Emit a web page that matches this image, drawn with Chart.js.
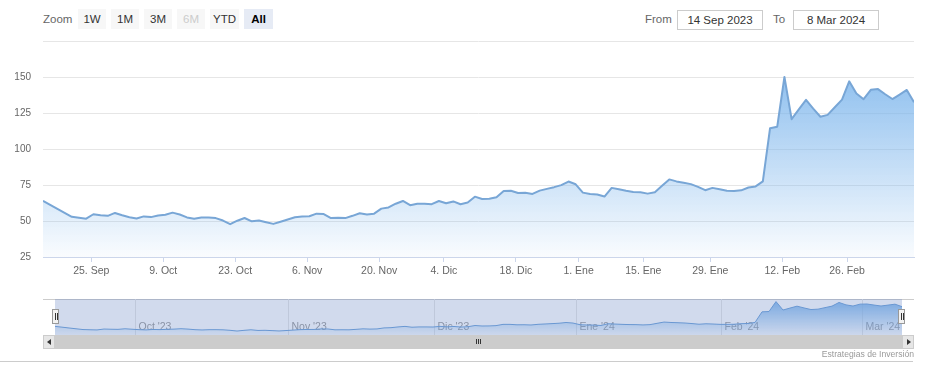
<!DOCTYPE html>
<html>
<head>
<meta charset="utf-8">
<script src="https://cdn.jsdelivr.net/npm/chart.js@4.4.0/dist/chart.umd.min.js"></script>
<style>
html, body { margin: 0; padding: 0; background: #fff; }
body { width: 927px; height: 377px; position: relative; overflow: hidden; font-family: "Liberation Sans", Arial, sans-serif; }
#main { position: absolute; left: 0; top: 0; }
#nav { position: absolute; left: 55px; top: 299px; }
.lbl { position: absolute; color: #666; font-size: 11.5px; line-height: 20px; top: 9px; }
.btn { position: absolute; top: 9px; height: 20px; line-height: 20px; text-align: center; font-size: 11.5px; color: #333; background: #f7f7f7; }
.btn.off { color: #ccc; }
.btn.on { background: #e6ebf5; color: #000; font-weight: bold; }
.inp { position: absolute; top: 10px; height: 18px; line-height: 18px; border: 1px solid #ccc; text-align: center; font-size: 11.5px; color: #333; box-sizing: content-box; }
.box { position: absolute; box-sizing: border-box; }
.grip { position: absolute; width: 1px; background: #333; }
</style>
</head>
<body>

<!-- range selector -->
<div class="lbl" style="left:43px">Zoom</div>
<div class="btn" style="left:78px;width:28px">1W</div>
<div class="btn" style="left:111px;width:28px">1M</div>
<div class="btn" style="left:144px;width:28px">3M</div>
<div class="btn off" style="left:177px;width:28px">6M</div>
<div class="btn" style="left:210px;width:29px">YTD</div>
<div class="btn on" style="left:244px;width:29px">All</div>

<div class="lbl" style="left:645px">From</div>
<div class="inp" style="left:677px;width:84px">14 Sep 2023</div>
<div class="lbl" style="left:773px">To</div>
<div class="inp" style="left:793px;width:84px">8 Mar 2024</div>

<canvas id="main" width="927" height="290"></canvas>

<!-- navigator outline + handles -->
<div class="box" style="left:43px;top:299px;width:871px;height:1px;background:#ccc"></div>
<canvas id="nav" width="847" height="36"></canvas>
<div class="box" style="left:52px;top:309px;width:7px;height:15px;background:#f2f2f2;border:1px solid #999">
  <div class="grip" style="left:1.5px;top:3px;height:7px;background:#333"></div>
  <div class="grip" style="left:3.5px;top:3px;height:7px;background:#333"></div>
</div>
<div class="box" style="left:898px;top:309px;width:7px;height:15px;background:#f2f2f2;border:1px solid #999">
  <div class="grip" style="left:1.5px;top:3px;height:7px;background:#333"></div>
  <div class="grip" style="left:3.5px;top:3px;height:7px;background:#333"></div>
</div>

<!-- scrollbar -->
<div class="box" style="left:43px;top:335px;width:871px;height:14px;background:#f2f2f2"></div>
<div class="box" style="left:55px;top:335px;width:847px;height:14px;background:#ccc;border:1px solid #ccc"></div>
<div class="grip" style="left:476px;top:339px;height:5px"></div>
<div class="grip" style="left:478px;top:339px;height:5px"></div>
<div class="grip" style="left:480px;top:339px;height:5px"></div>
<div class="box" style="left:43px;top:335px;width:12px;height:14px;background:#e6e6e6;border:1px solid #ccc">
  <div style="position:absolute;left:3px;top:3px;width:0;height:0;border-top:3px solid transparent;border-bottom:3px solid transparent;border-right:4px solid #333"></div>
</div>
<div class="box" style="left:902px;top:335px;width:12px;height:14px;background:#e6e6e6;border:1px solid #ccc">
  <div style="position:absolute;left:4px;top:3px;width:0;height:0;border-top:3px solid transparent;border-bottom:3px solid transparent;border-left:4px solid #333"></div>
</div>

<div class="box" style="left:0;top:361px;width:913px;height:1px;background:#ccc"></div>
<div style="position:absolute;right:13px;top:348px;font-size:8.6px;color:#999;line-height:12px">Estrategias de Inversión</div>

<script>
// ---------- Data ----------
// trading days shown (ordinal axis: one slot per session)
const DATES = [
    "2023-09-14", "2023-09-15", "2023-09-18", "2023-09-19", "2023-09-20", "2023-09-21", "2023-09-22",
    "2023-09-25", "2023-09-26", "2023-09-27", "2023-09-28", "2023-09-29",
    "2023-10-02", "2023-10-03", "2023-10-04", "2023-10-05", "2023-10-06", "2023-10-09", "2023-10-10",
    "2023-10-11", "2023-10-12", "2023-10-13", "2023-10-16", "2023-10-17", "2023-10-18", "2023-10-19",
    "2023-10-20", "2023-10-23", "2023-10-24", "2023-10-25", "2023-10-26", "2023-10-27", "2023-10-30", "2023-10-31",
    "2023-11-01", "2023-11-02", "2023-11-03", "2023-11-06", "2023-11-07", "2023-11-08", "2023-11-09",
    "2023-11-10", "2023-11-13", "2023-11-14", "2023-11-15", "2023-11-16", "2023-11-17", "2023-11-20",
    "2023-11-21", "2023-11-22", "2023-11-24", "2023-11-27", "2023-11-28", "2023-11-29", "2023-11-30",
    "2023-12-01", "2023-12-04", "2023-12-05", "2023-12-06", "2023-12-07", "2023-12-08", "2023-12-11",
    "2023-12-12", "2023-12-13", "2023-12-14", "2023-12-15", "2023-12-18", "2023-12-19", "2023-12-20",
    "2023-12-21", "2023-12-22", "2023-12-26", "2023-12-27", "2023-12-28", "2023-12-29",
    "2024-01-02", "2024-01-03", "2024-01-04", "2024-01-05", "2024-01-08", "2024-01-09", "2024-01-10",
    "2024-01-11", "2024-01-12", "2024-01-16", "2024-01-17", "2024-01-18", "2024-01-19", "2024-01-22",
    "2024-01-23", "2024-01-24", "2024-01-25", "2024-01-26", "2024-01-29", "2024-01-30", "2024-01-31",
    "2024-02-01", "2024-02-02", "2024-02-05", "2024-02-06", "2024-02-07", "2024-02-08", "2024-02-09",
    "2024-02-12", "2024-02-13", "2024-02-14", "2024-02-15", "2024-02-16", "2024-02-20", "2024-02-21",
    "2024-02-22", "2024-02-23", "2024-02-26", "2024-02-27", "2024-02-28", "2024-02-29",
    "2024-03-01", "2024-03-04", "2024-03-05", "2024-03-06", "2024-03-07", "2024-03-08"
];

const PRICES = [
    64.0, 61.2, 58.4, 55.6, 52.9, 52.2, 51.6, 54.7, 54.0, 53.6, 55.6, 54.0,
    52.6, 51.7, 53.2, 52.7, 53.8, 54.4, 55.8, 54.5, 52.5, 51.5, 52.4, 52.5, 52.0, 50.3,
    47.8, 50.2, 52.1, 49.8, 50.3, 49.2, 48.0, 49.5,
    51.0, 52.6, 53.2, 53.3, 55.1, 54.8, 52.0, 52.2, 52.0, 53.6, 55.4, 54.5, 55.1, 58.6,
    59.4, 62.0, 63.9, 61.0, 62.0, 62.0, 61.7,
    63.9, 62.3, 63.6, 61.6, 62.8, 66.9, 65.3, 65.5, 66.5, 70.9, 71.0, 69.4, 69.6, 68.8,
    71.1, 72.3, 73.5, 74.9, 77.4, 75.5,
    69.7, 68.7, 68.4, 67.0, 73.0, 72.0, 71.0, 70.2, 70.0, 69.0, 70.0, 74.5, 78.9, 77.5,
    76.6, 75.6, 73.7, 71.4, 73.0, 72.1, 71.0,
    70.9, 71.3, 73.3, 74.0, 77.5, 114.4, 115.5, 150.0, 120.7, 127.5, 134.1, 128.0, 122.4,
    123.7, 129.0, 134.3, 147.0, 138.6, 134.6, 141.1, 141.6,
    138.0, 134.7, 137.8, 141.0, 132.4
];

// main x axis ticks (ordinal slot positions) and labels
const TICK_POS = [6.7, 16.7, 26.7, 36.7, 46.7, 55.7, 65.7, 74.4, 83.4, 92.7, 102.7, 111.7];
const TICK_LABELS = ["25. Sep", "9. Oct", "23. Oct", "6. Nov", "20. Nov", "4. Dic", "18. Dic",
    "1. Ene", "15. Ene", "29. Ene", "12. Feb", "26. Feb"];

const Y_MIN = 25, Y_MAX = 175, Y_STEP = 25;

// navigator month ticks
const NAV_POS = [11.4, 33.3, 54.2, 74.4, 95.2, 115.3];
const NAV_LABELS = ["Oct '23", "Nov '23", "Dic '23", "Ene '24", "Feb '24", "Mar '24"];

// ---------- Helpers ----------
const FONT = '"Liberation Sans", Arial, sans-serif';
Chart.defaults.font.family = FONT;
const points = PRICES.map((v, i) => ({ x: i, y: v }));

const areaFill = (a0, a1) => ctx => {
    const a = ctx.chart.chartArea;
    if (!a) return 'rgba(124,181,236,0.4)';
    const g = ctx.chart.ctx.createLinearGradient(0, a.top, 0, a.bottom);
    g.addColorStop(0, `rgba(124,181,236,${a0})`);
    g.addColorStop(1, `rgba(124,181,236,${a1})`);
    return g;
};

// ---------- Main chart ----------
new Chart(document.getElementById('main'), {
    type: 'line',
    data: {
        datasets: [{
            data: points,
            borderColor: '#78a6d6',
            borderWidth: 2,
            borderJoinStyle: 'round',
            pointRadius: 0,
            tension: 0,
            fill: 'start',
            backgroundColor: areaFill(1, 0.04)
        }]
    },
    options: {
        responsive: false,
        animation: false,
        layout: { padding: { top: 41, right: 13, left: 0, bottom: 0 } },
        plugins: { legend: { display: false }, tooltip: { enabled: false } },
        scales: {
            x: {
                type: 'linear',
                min: 0, max: DATES.length - 1,
                afterBuildTicks: s => { s.ticks = TICK_POS.map(v => ({ value: v })); },
                afterFit: s => { s.height = 33; },
                ticks: {
                    autoSkip: false, maxRotation: 0, padding: 3,
                    color: '#666', font: { size: 10.5 },
                    callback: (v, i) => TICK_LABELS[i]
                },
                grid: { drawOnChartArea: false, tickLength: 5, color: '#ccd6eb' },
                border: { color: '#ccd6eb' }
            },
            y: {
                min: Y_MIN, max: Y_MAX,
                afterFit: s => { s.width = 43; },
                ticks: {
                    stepSize: Y_STEP, padding: 12,
                    color: '#666', font: { size: 10 },
                    callback: v => v === Y_MAX ? '' : v
                },
                grid: { color: '#e6e6e6', drawTicks: false },
                border: { display: false }
            }
        }
    }
});

// ---------- Navigator ----------
const navDeco = {
    id: 'navDeco',
    beforeDatasetsDraw(chart) {
        const { ctx, chartArea: a, scales: { x } } = chart;
        ctx.save();
        ctx.strokeStyle = '#e6e6e6';
        ctx.lineWidth = 1;
        ctx.fillStyle = '#999';
        ctx.font = `10.5px ${FONT}`;
        ctx.textBaseline = 'middle';
        NAV_POS.forEach((p, i) => {
            const px = Math.round(x.getPixelForValue(p)) + 0.5;
            ctx.beginPath(); ctx.moveTo(px, a.top); ctx.lineTo(px, a.bottom); ctx.stroke();
            ctx.fillText(NAV_LABELS[i], px + 3, 28.5);
        });
        ctx.restore();
    },
    afterDatasetsDraw(chart) {
        const { ctx, chartArea: a } = chart;
        ctx.save();
        ctx.fillStyle = 'rgba(102,133,194,0.3)';
        ctx.fillRect(a.left, a.top, a.right - a.left, a.bottom - a.top);
        ctx.restore();
    }
};

new Chart(document.getElementById('nav'), {
    type: 'line',
    data: {
        datasets: [{
            data: points,
            borderColor: '#6a9fd8',
            borderWidth: 1,
            borderJoinStyle: 'round',
            pointRadius: 0,
            tension: 0,
            fill: 'start',
            backgroundColor: areaFill(1, 0.05)
        }]
    },
    options: {
        responsive: false,
        animation: false,
        layout: { padding: 0 },
        plugins: { legend: { display: false }, tooltip: { enabled: false } },
        scales: {
            x: { type: 'linear', display: false, min: 0, max: DATES.length - 1 },
            y: { display: false, min: 34, max: 159 }
        }
    },
    plugins: [navDeco]
});
</script>
</body>
</html>
